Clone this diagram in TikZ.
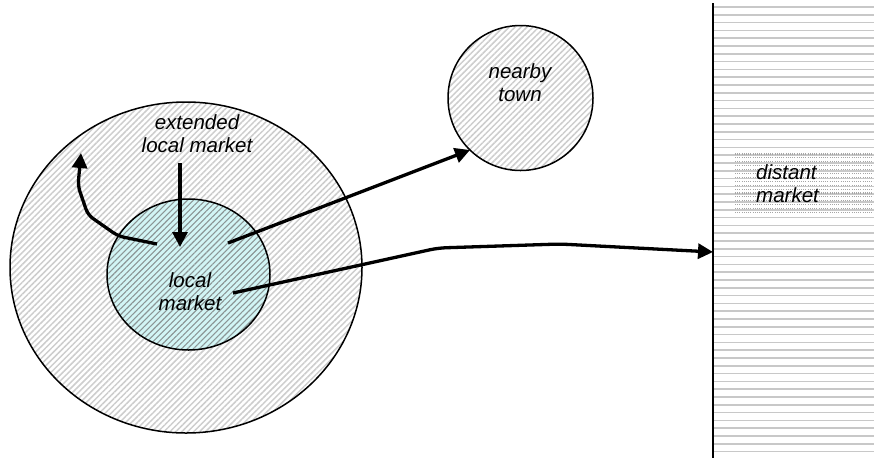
\documentclass[tikz,border=0pt]{standalone}
\usepackage{fontspec}
\setmainfont{Liberation Sans}
\usetikzlibrary{arrows.meta,patterns.meta,shapes.geometric}
\definecolor{hatchgray}{RGB}{205,205,205}
\definecolor{innercyan}{RGB}{210,245,245}
\definecolor{innerhatch}{RGB}{140,150,150}
\definecolor{stripegray}{RGB}{200,200,200}
\tikzset{
  outline/.style={draw=black, line width=1.5pt},
  greyhatch/.style={pattern={Lines[angle=45,distance=4.2pt,line width=1.5pt]}, pattern color=hatchgray},
  cyanhatch/.style={preaction={fill=innercyan}, pattern={Lines[angle=45,distance=4.2pt,line width=1.1pt]}, pattern color=innerhatch},
  flow/.style={line width=3.3pt, -{Triangle[length=15pt,width=15pt]}, line join=round},
  lbl/.style={font=\fontsize{20.5}{23}\selectfont\itshape, align=center, inner sep=0pt},
  stripe/.style={draw=stripegray, line width=1.6pt},
  dotstripe/.style={draw=gray!70, line width=1.1pt, dash pattern=on 1pt off 1.2pt}
}
\begin{document}
\begin{tikzpicture}[x=1pt,y=-1pt]
\useasboundingbox (0,0) rectangle (874,459);
% distant market
\foreach \k in {0,...,57} {
  \draw[stripe] (714,{7+7.8*\k}) -- (874,{7+7.8*\k});
}
\foreach \k in {0,...,15} {
  \draw[dotstripe] (735,{154+3.9*\k}) -- (874,{154+3.9*\k});
}
\draw[line width=2pt] (713,3) coordinate (dtop) -- (713,458) coordinate (dbot);
\coordinate (dentry) at (713,252);
\node[lbl, align=left, anchor=west] (distant) at (756,184) {distant\\market};
% outer extended local market
\node[ellipse, outline, greyhatch, minimum width=352pt, minimum height=331pt, inner sep=0pt] (outer) at (186,267.5) {};
% inner local market
\node[ellipse, outline, cyanhatch, minimum width=163pt, minimum height=151pt, inner sep=0pt] (inner) at (188.5,274.5) {};
% nearby town
\node[circle, outline, greyhatch, minimum size=145pt, inner sep=0pt] (town) at (520.5,98) {};
% labels
\node[lbl] (extlbl) at (197,134) {extended\\local market};
\node[lbl] (loclbl) at (190,292) {local\\market};
\node[lbl] (townlbl) at (520,83) {nearby\\town};
% arrow points
\coordinate (v1) at (180,163);
\coordinate (v2) at (180,247);
\coordinate (c0) at (157,244);
\coordinate (c1) at (118,236);
\coordinate (c2) at (88,215);
\coordinate (c3) at (78,186);
\coordinate (c4) at (81,153);
\coordinate (t0) at (228,243);
\coordinate (t1) at (470,150);
\coordinate (d0) at (233,293);
\coordinate (d1) at (438,248);
\coordinate (d2) at (560,244);
% arrows
\draw[flow] (v1) -- (v2);
\draw[flow, rounded corners=6pt] (c0) -- (c1) -- (c2) -- (c3) -- (c4);
\draw[flow] (t0) -- (t1);
\draw[flow, rounded corners=8pt] (d0) -- (d1) -- (d2) -- (dentry);
\end{tikzpicture}
\end{document}
